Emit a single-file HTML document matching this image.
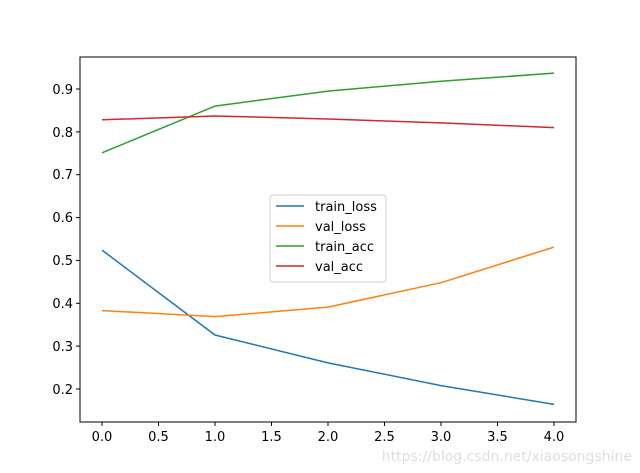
<!DOCTYPE html>
<html><head><style>body{margin:0;background:#fff}svg{display:block}</style></head><body>
<svg width="640" height="473" xmlns="http://www.w3.org/2000/svg" font-family="DejaVu Sans, Liberation Sans, sans-serif" font-size="13">
<rect width="640" height="473" fill="#fff"/>
<g stroke="#000" stroke-width="1">
<line x1="102" y1="422" x2="102" y2="426"/><line x1="158.5" y1="422" x2="158.5" y2="426"/><line x1="215" y1="422" x2="215" y2="426"/><line x1="271.5" y1="422" x2="271.5" y2="426"/><line x1="328" y1="422" x2="328" y2="426"/><line x1="384.5" y1="422" x2="384.5" y2="426"/><line x1="441" y1="422" x2="441" y2="426"/><line x1="497.5" y1="422" x2="497.5" y2="426"/><line x1="554" y1="422" x2="554" y2="426"/>
<line x1="76" y1="389" x2="80" y2="389"/><line x1="76" y1="346.1" x2="80" y2="346.1"/><line x1="76" y1="303.3" x2="80" y2="303.3"/><line x1="76" y1="260.4" x2="80" y2="260.4"/><line x1="76" y1="217.6" x2="80" y2="217.6"/><line x1="76" y1="174.7" x2="80" y2="174.7"/><line x1="76" y1="131.9" x2="80" y2="131.9"/><line x1="76" y1="89" x2="80" y2="89"/>
</g>
<g text-anchor="middle" fill="#000">
<text x="102" y="441">0.0</text><text x="158.5" y="441">0.5</text><text x="215" y="441">1.0</text><text x="271.5" y="441">1.5</text><text x="328" y="441">2.0</text><text x="384.5" y="441">2.5</text><text x="441" y="441">3.0</text><text x="497.5" y="441">3.5</text><text x="554" y="441">4.0</text>
</g>
<g text-anchor="end" fill="#000">
<text x="73" y="394">0.2</text><text x="73" y="351">0.3</text><text x="73" y="308">0.4</text><text x="73" y="265">0.5</text><text x="73" y="222">0.6</text><text x="73" y="179">0.7</text><text x="73" y="137">0.8</text><text x="73" y="94">0.9</text>
</g>
<g fill="none" stroke-width="1.5">
<polyline stroke="#1f77b4" points="102,250.1 215,335 328,362.9 441,385.6 554,404.4"/>
<polyline stroke="#ff7f0e" points="102,310.6 215,316.6 328,307.1 441,282.7 554,247.1"/>
<polyline stroke="#2ca02c" points="102,152.8 215,106.1 328,91.1 441,81.3 554,73.1"/>
<polyline stroke="#d62728" points="102,119.8 215,116 328,119 441,122.9 554,127.6"/>
</g>
<rect x="80" y="57" width="496" height="365" fill="none" stroke="#000" stroke-width="1"/>
<rect x="270" y="195" width="116" height="87" rx="3" fill="#fff" fill-opacity="0.8" stroke="#ccc"/>
<g stroke-width="1.5">
<line x1="276" y1="206" x2="304" y2="206" stroke="#1f77b4"/>
<line x1="276" y1="226" x2="304" y2="226" stroke="#ff7f0e"/>
<line x1="276" y1="246" x2="304" y2="246" stroke="#2ca02c"/>
<line x1="276" y1="266" x2="304" y2="266" stroke="#d62728"/>
</g>
<g fill="#000">
<text x="315" y="211">train_loss</text><text x="315" y="231">val_loss</text><text x="315" y="251">train_acc</text><text x="315" y="271">val_acc</text>
</g>
<text x="632" y="461" text-anchor="end" fill="#ddd" font-size="14">https://blog.csdn.net/xiaosongshine</text>
</svg>
</body></html>
